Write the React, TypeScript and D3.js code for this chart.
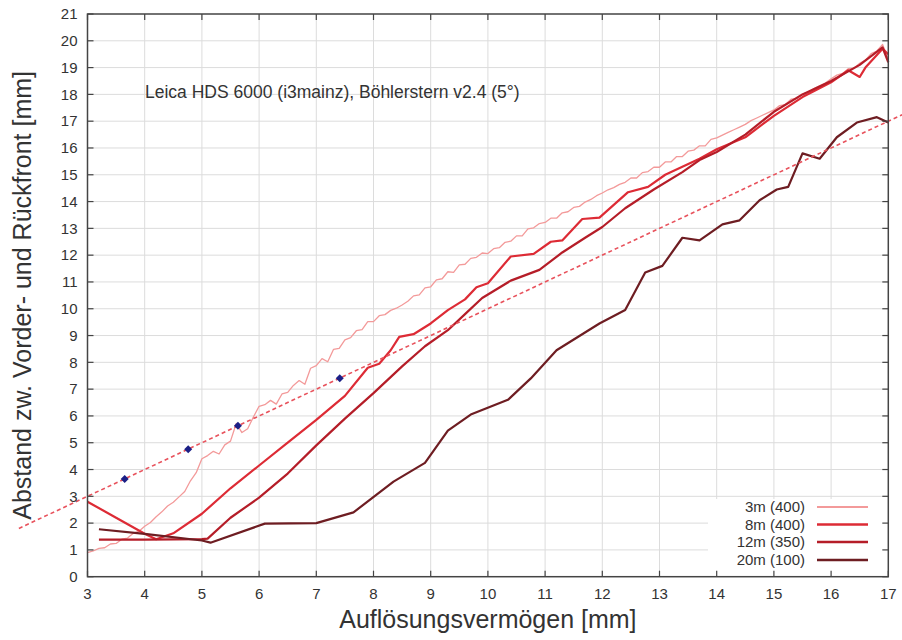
import React from 'react';
import * as d3 from 'd3';

const W = 902;
const H = 640;

const xTickValues = [3, 4, 5, 6, 7, 8, 9, 10, 11, 12, 13, 14, 15, 16, 17];
const yTickValues = [0, 1, 2, 3, 4, 5, 6, 7, 8, 9, 10, 11, 12, 13, 14, 15, 16, 17, 18, 19, 20, 21];

const titleText = 'Leica HDS 6000 (i3mainz), Böhlerstern v2.4 (5°)';
const xLabel = 'Auflösungsvermögen [mm]';
const yLabel = 'Abstand zw. Vorder- und Rückfront [mm]';

// 3m (400)
const x3m = [
  3.0, 3.1, 3.2, 3.3, 3.4, 3.5, 3.6, 3.7, 3.8, 3.9,
  4.0, 4.1, 4.2, 4.3, 4.4, 4.5, 4.6, 4.7, 4.8, 4.9,
  5.0, 5.1, 5.2, 5.3, 5.4, 5.5, 5.6, 5.7, 5.8, 5.9,
  6.0, 6.1, 6.2, 6.3, 6.4, 6.5, 6.6, 6.7, 6.8, 6.9,
  7.0, 7.1, 7.2, 7.3, 7.4, 7.5, 7.6, 7.7, 7.8, 7.9,
  8.0, 8.1, 8.2, 8.3, 8.4, 8.5, 8.6, 8.7, 8.8, 8.9,
  9.0, 9.1, 9.2, 9.3, 9.4, 9.5, 9.6, 9.7, 9.8, 9.9,
  10.0, 10.1, 10.2, 10.3, 10.4, 10.5, 10.6, 10.7, 10.8, 10.9,
  11.0, 11.1, 11.2, 11.3, 11.4, 11.5, 11.6, 11.7, 11.8, 11.9,
  12.0, 12.1, 12.2, 12.3, 12.4, 12.5, 12.6, 12.7, 12.8, 12.9,
  13.0, 13.1, 13.2, 13.3, 13.4, 13.5, 13.6, 13.7, 13.8, 13.9,
  14.0, 14.1, 14.2, 14.3, 14.4, 14.5, 14.6, 14.7, 14.8, 14.9,
  15.0, 15.1, 15.2, 15.3, 15.4, 15.5, 15.6, 15.7, 15.8, 15.9,
  16.0, 16.1, 16.2, 16.3, 16.4, 16.5, 16.6, 16.7, 16.8, 16.9,
  17.0,
];
const y3m = [
  0.90, 0.96, 1.06, 1.08, 1.22, 1.24, 1.40, 1.44, 1.62, 1.70,
  1.88, 2.02, 2.24, 2.42, 2.64, 2.78, 2.98, 3.18, 3.58, 3.88,
  4.40, 4.52, 4.68, 4.58, 4.92, 5.06, 5.72, 5.38, 5.52, 5.96,
  6.36, 6.42, 6.58, 6.44, 6.82, 6.88, 7.14, 7.32, 7.18, 7.78,
  7.88, 8.14, 8.02, 8.48, 8.52, 8.84, 8.92, 9.18, 9.22, 9.52,
  9.52, 9.74, 9.78, 9.94, 10.02, 10.14, 10.28, 10.48, 10.52, 10.78,
  10.82, 11.08, 11.12, 11.38, 11.36, 11.64, 11.66, 11.88, 11.92, 12.08,
  12.06, 12.24, 12.28, 12.48, 12.52, 12.72, 12.72, 12.98, 13.02, 13.18,
  13.22, 13.38, 13.38, 13.58, 13.62, 13.78, 13.82, 13.98, 14.08, 14.22,
  14.32, 14.44, 14.52, 14.64, 14.72, 14.88, 14.88, 15.08, 15.12, 15.28,
  15.28, 15.48, 15.48, 15.68, 15.68, 15.88, 15.92, 16.08, 16.08, 16.32,
  16.38, 16.48, 16.58, 16.68, 16.78, 16.88, 17.02, 17.12, 17.22, 17.32,
  17.42, 17.58, 17.62, 17.82, 17.84, 18.02, 18.08, 18.22, 18.32, 18.42,
  18.58, 18.72, 18.78, 18.96, 18.98, 19.16, 19.28, 19.52, 19.62, 19.86,
  19.32,
];

// 8m (400)
const x8m = [3.0, 3.5, 4.0, 4.2, 4.5, 5.0, 5.5, 6.0, 6.5, 7.0, 7.5, 7.9, 8.1, 8.3, 8.45, 8.7, 9.0, 9.3, 9.6, 9.8, 10.0, 10.4, 10.8, 11.1, 11.3, 11.65, 11.95, 12.45, 12.8, 13.1, 13.4, 13.7, 14.0, 14.5, 15.0, 15.5, 16.0, 16.3, 16.5, 16.6, 16.9, 17.0];
const y8m = [2.8, 2.2, 1.6, 1.4, 1.62, 2.35, 3.3, 4.15, 5.0, 5.85, 6.75, 7.8, 7.95, 8.45, 8.95, 9.05, 9.45, 9.95, 10.35, 10.8, 10.95, 11.95, 12.05, 12.5, 12.55, 13.35, 13.4, 14.35, 14.55, 15.0, 15.3, 15.6, 15.95, 16.4, 17.2, 17.9, 18.45, 18.9, 18.65, 19.0, 19.7, 19.5];

// 12m (350)
const x12m = [3.2, 4.0, 5.0, 5.1, 5.5, 6.0, 6.5, 7.0, 7.5, 8.0, 8.5, 8.9, 9.3, 9.6, 9.9, 10.4, 10.9, 11.3, 11.7, 12.0, 12.4, 12.9, 13.4, 13.7, 14.0, 14.5, 15.0, 15.5, 16.0, 16.5, 16.9, 17.0];
const y12m = [1.38, 1.38, 1.4, 1.42, 2.2, 2.95, 3.85, 4.9, 5.9, 6.85, 7.85, 8.6, 9.2, 9.8, 10.4, 11.05, 11.45, 12.1, 12.65, 13.05, 13.75, 14.45, 15.1, 15.55, 15.85, 16.5, 17.35, 18.0, 18.5, 19.1, 19.75, 19.2];

// 20m (100)
const x20m = [3.2, 4.0, 5.0, 5.15, 6.1, 7.0, 7.65, 8.35, 8.9, 9.3, 9.7, 10.35, 10.75, 11.2, 11.95, 12.4, 12.75, 13.05, 13.4, 13.7, 14.1, 14.4, 14.75, 15.05, 15.25, 15.5, 15.8, 16.1, 16.45, 16.8, 17.0];
const y20m = [1.77, 1.6, 1.35, 1.27, 1.98, 2.0, 2.4, 3.55, 4.25, 5.45, 6.05, 6.6, 7.4, 8.45, 9.45, 9.95, 11.35, 11.6, 12.65, 12.55, 13.15, 13.3, 14.05, 14.45, 14.55, 15.8, 15.6, 16.4, 16.95, 17.15, 16.95];

// reference line (dashed) and blue markers
const refX = [1.8, 17.4];
const refY = [1.8, 17.4];
const markX = [3.65, 4.76, 5.63, 7.41];
const markY = [3.65, 4.76, 5.63, 7.41];

const seriesNames = ['3m (400)', '8m (400)', '12m (350)', '20m (100)'];
const seriesColors = ['#f39a9a', '#dd2b35', '#b51d28', '#6e1d22'];
const seriesWidths = [1.3, 2.2, 2.2, 2.2];

const FONT = '"Liberation Sans", Arial, Helvetica, sans-serif';

export default function App() {
  const x = d3.scaleLinear().domain([3, 17]).range([87.5, 888.3]);
  const y = d3.scaleLinear().domain([0, 21]).range([576.7, 14]);
  const [x0, x1] = x.range();
  const [y0, y1] = y.range();

  const line = d3
    .line<[number, number]>()
    .x((d) => x(d[0]))
    .y((d) => y(d[1]));

  const zip = (a: number[], b: number[]) => a.map((v, i) => [v, b[i]] as [number, number]);
  const series = [zip(x3m, y3m), zip(x8m, y8m), zip(x12m, y12m), zip(x20m, y20m)];

  const legendTop = 499;
  const legendLeft = 708;
  const legendRows = [507, 524.5, 542, 560];

  const tickLen = 6;
  const axisColor = '#444';
  const textColor = '#333';

  return (
    <svg
      width={W}
      height={H}
      style={{ position: 'absolute', left: 0, top: 0, background: '#fff' }}
      fontFamily={FONT}
    >
      <rect x={0} y={0} width={W} height={H} fill="#fff" />
      {/* grid */}
      <g stroke="#dcdcdc" strokeWidth={1}>
        {xTickValues.slice(1, -1).map((t) => (
          <line key={'gx' + t} x1={x(t)} x2={x(t)} y1={y0} y2={y1} />
        ))}
        {yTickValues.slice(1, -1).map((t) => (
          <line key={'gy' + t} x1={x0} x2={x1} y1={y(t)} y2={y(t)} />
        ))}
      </g>

      {/* legend background */}
      <rect x={legendLeft} y={legendTop} width={x1 - legendLeft} height={y0 - legendTop} fill="#fff" />

      {/* data series */}
      {series.map((s, i) => (
        <path
          key={'s' + i}
          d={line(s) || ''}
          fill="none"
          stroke={seriesColors[i]}
          strokeWidth={seriesWidths[i]}
          strokeLinejoin="round"
        />
      ))}

      {/* dashed reference line */}
      <path
        d={line(zip(refX, refY)) || ''}
        fill="none"
        stroke="#e8525c"
        strokeWidth={1.6}
        strokeDasharray="4,3"
      />

      {/* blue markers */}
      {markX.map((mx, i) => {
        const cx = x(mx);
        const cy = y(markY[i]);
        const r = 4;
        return (
          <path
            key={'m' + i}
            d={`M${cx},${cy - r}L${cx + r},${cy}L${cx},${cy + r}L${cx - r},${cy}Z`}
            fill="#1b1f86"
          />
        );
      })}

      {/* frame */}
      <rect x={x0} y={y1} width={x1 - x0} height={y0 - y1} fill="none" stroke={axisColor} strokeWidth={1.5} />

      {/* ticks */}
      <g stroke={axisColor} strokeWidth={1.2}>
        {xTickValues.map((t) => (
          <g key={'tx' + t}>
            <line x1={x(t)} x2={x(t)} y1={y0} y2={y0 - tickLen} />
            <line x1={x(t)} x2={x(t)} y1={y1} y2={y1 + tickLen} />
          </g>
        ))}
        {yTickValues.map((t) => (
          <g key={'ty' + t}>
            <line x1={x0} x2={x0 + tickLen} y1={y(t)} y2={y(t)} />
            <line x1={x1} x2={x1 - tickLen} y1={y(t)} y2={y(t)} />
          </g>
        ))}
      </g>

      {/* tick labels */}
      <g fill={textColor} fontSize={15}>
        {xTickValues.map((t) => (
          <text key={'lx' + t} x={x(t)} y={y0 + 22} textAnchor="middle">
            {t}
          </text>
        ))}
        {yTickValues.map((t) => (
          <text key={'ly' + t} x={x0 - 10} y={y(t)} dy="0.35em" textAnchor="end">
            {t}
          </text>
        ))}
      </g>

      {/* title */}
      <text x={145} y={98} fontSize={17.5} fill={textColor}>
        {titleText}
      </text>

      {/* axis labels */}
      <text x={(x0 + x1) / 2} y={628} fontSize={25} fill={textColor} textAnchor="middle">
        {xLabel}
      </text>
      <text
        transform={`translate(31,${(y0 + y1) / 2}) rotate(-90)`}
        fontSize={25}
        fill={textColor}
        textAnchor="middle"
      >
        {yLabel}
      </text>

      {/* legend */}
      {seriesNames.map((n, i) => (
        <g key={'lg' + i}>
          <text x={805} y={legendRows[i]} dy="0.35em" fontSize={15} fill={textColor} textAnchor="end">
            {n}
          </text>
          <line
            x1={817}
            x2={868}
            y1={legendRows[i]}
            y2={legendRows[i]}
            stroke={seriesColors[i]}
            strokeWidth={seriesWidths[i] + 0.5}
          />
        </g>
      ))}
    </svg>
  );
}
